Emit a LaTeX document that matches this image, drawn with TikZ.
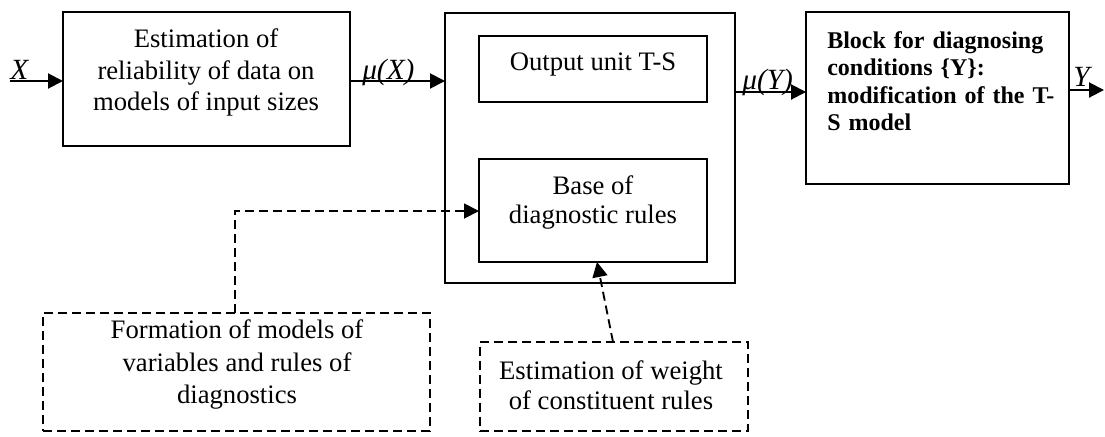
\documentclass[tikz,border=0pt]{standalone}
\usepackage{fontspec}
\setmainfont{Liberation Serif}
\usetikzlibrary{arrows.meta,calc}
\newlength\modw
\begin{document}
\begin{tikzpicture}[x=0.75pt,y=-0.75pt,
  blk/.style={draw,line width=1.5pt,inner sep=0pt,outer sep=0pt},
  dblk/.style={draw,line width=1.4pt,dash pattern=on 6.75pt off 3.75pt,inner sep=0pt,outer sep=0pt},
  txt/.style={font=\fontsize{20pt}{#1}\selectfont,align=center,inner sep=0pt},
  lbl/.style={font=\fontsize{22pt}{26pt}\selectfont\itshape,inner sep=0pt,anchor=base west},
  arr/.style={line width=1.5pt,-{Triangle[length=11.25pt,width=11.25pt]}},
  darr/.style={line width=1.4pt,dash pattern=on 6.75pt off 3.75pt,-{Triangle[length=11.25pt,width=11.25pt]}}]
\useasboundingbox (0,0) rectangle (1105,436);
% boxes
\node[blk,minimum width=215.25pt,minimum height=100.5pt] (b1) at (206.5,79) {};
\node[blk,minimum width=217.5pt,minimum height=202.5pt] (big) at (590,148) {};
\node[blk,minimum width=171pt,minimum height=49.5pt] (out) at (593,69) {};
\node[blk,minimum width=171pt,minimum height=77.25pt] (base) at (593,210.5) {};
\node[blk,minimum width=197.25pt,minimum height=129pt] (b4) at (937.5,98) {};
\node[dblk,minimum width=290.25pt,minimum height=88.5pt] (form) at (236.5,372) {};
\node[dblk,minimum width=201pt,minimum height=67pt] (est) at (614,386.5) {};
% texts
\node[txt=23.6pt] (t1) at (206,72.5) {Estimation of\\reliability of data on\\models of input sizes};
\node[txt=24pt] (tout) at (593,65) {Output unit T-S};
\node[txt=21.75pt] (tbase) at (593,202.5) {Base of\\diagnostic rules};
\node[txt=24.4pt] (tform) at (237,364.5) {Formation of models of\\variables and rules of\\diagnostics};
\node[txt=22.5pt] (test) at (611,385) {Estimation of weight\\of constituent rules};
\node[anchor=west,inner sep=0pt,text width=180pt,align=left,
  font=\bfseries\fontsize{18pt}{20.5pt}\selectfont] (t4) at (827,81)
  {\settowidth{\modw}{modification of the T-}\makebox[\modw][s]{Block for diagnosing}\\conditions \{Y\}:\\modification of the T-\\S model};
% labels
\node[lbl] (lx) at (10,79) {X};
\node[lbl] (lmx) at (362,79) {μ(X)};
\node[lbl] (lmy) at (742,89) {μ(Y)};
\node[lbl] (ly) at (1073,86) {Y};
% connectors
\coordinate (xin) at (10,81);
\coordinate (yout) at (1104,90);
\draw[arr] (xin) -- (xin -| b1.west);
\draw[arr] (b1.east |- 0,81) -- (big.west |- 0,81);
\draw[arr] (big.east |- 0,92) -- (b4.west |- 0,92);
\draw[arr] (b4.east |- yout) -- (yout);
\draw[darr] ($(form.north)+(-1.5,0)$) |- (base.west |- 0,211);
\draw[darr] (est.north -| 613,0) -- (base.south -| 597,0);
\end{tikzpicture}
\end{document}
